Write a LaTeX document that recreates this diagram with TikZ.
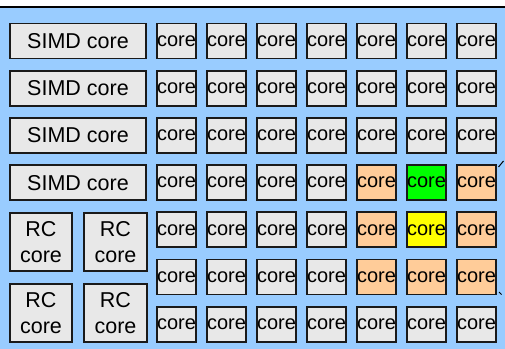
\documentclass[tikz,border=0pt]{standalone}
\usepackage{fontspec}
\setmainfont{Liberation Sans}
\definecolor{bgblue}{HTML}{99CCFF}
\definecolor{boxgray}{HTML}{E8E8E8}
\definecolor{orangec}{HTML}{FFCC99}
\definecolor{greenc}{HTML}{00FF00}
\definecolor{yellowc}{HTML}{FFFF00}
\definecolor{edgec}{HTML}{1A1A1A}
\begin{document}
\begin{tikzpicture}[x=1pt,y=-1pt,
  box/.style={draw=edgec, line width=1.8pt, fill=boxgray, inner sep=0pt, outer sep=0pt},
  corebox/.style={box, minimum width=37.5pt, minimum height=35pt, font=\fontsize{20}{24}\selectfont},
  simdbox/.style={box, minimum width=136.5pt, minimum height=35pt, font=\fontsize{21.5}{26}\selectfont},
  rcbox/.style={box, minimum width=62.5pt, minimum height=58.5pt, align=center, font=\fontsize{21.5}{26}\selectfont},
  tick/.style={draw=black, line width=1pt}]
\useasboundingbox (0,0) rectangle (505,348);
\fill[bgblue] (-2,7) rectangle (507,350);
\draw[line width=2pt] (-2,7) -- (507,7);
% SIMD cores
\foreach \r in {0,...,3}{
  \node[simdbox] (simd\r) at (78, 41+47.2*\r) {SIMD core};
}
% RC cores
\node[rcbox] (rc00) at (41,242) {RC\\core};
\node[rcbox] (rc01) at (115.5,242) {RC\\core};
\node[rcbox] (rc10) at (41,313) {RC\\core};
\node[rcbox] (rc11) at (115.5,313) {RC\\core};
% core grid
\foreach \r in {0,...,6}{
  \foreach \c in {0,...,6}{
    \def\fc{boxgray}
    \ifnum\r>2 \ifnum\r<6 \ifnum\c>3 \def\fc{orangec}\fi\fi\fi
    \ifnum\c=5 \ifnum\r=3 \def\fc{greenc}\fi \ifnum\r=4 \def\fc{yellowc}\fi\fi
    \node[corebox, fill=\fc] (c\r\c) at (176.5+50*\c, 41+47.2*\r) {core};
  }
}
% small cut-off line fragments at the right edge
\coordinate (t1a) at (498.5,167);
\coordinate (t1b) at (503.5,161);
\coordinate (t2a) at (499,292);
\coordinate (t2b) at (501.5,294.5);
\draw[tick] (t1a) -- (t1b);
\draw[tick] (t2a) -- (t2b);
\end{tikzpicture}
\end{document}
